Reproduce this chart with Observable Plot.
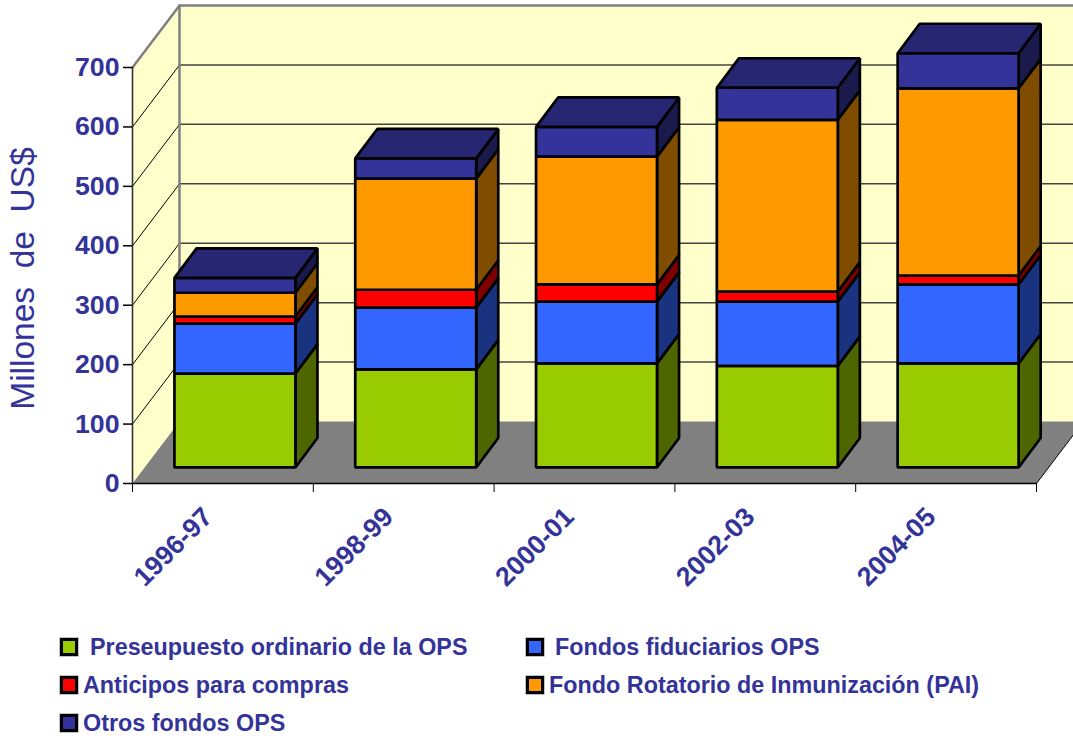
<!DOCTYPE html>
<html lang="es">
<head>
<meta charset="utf-8">
<script src="https://cdn.jsdelivr.net/npm/d3@7"></script>
<script src="https://cdn.jsdelivr.net/npm/@observablehq/plot@0.6"></script>
<style>
html,body{margin:0;padding:0;background:#fff;overflow:hidden}
#legend{position:relative;width:1073px;height:113px;font:bold 23.35px "Liberation Sans",Arial,sans-serif;color:#333399}
#legend .t{position:absolute;white-space:nowrap;line-height:28px}
#legend .s{position:absolute;box-sizing:border-box;width:18px;height:18px;border:3px solid #000;box-shadow:0 0 0 .6px #999}
</style>
</head>
<body>
<div id="chart"></div>
<div id="legend"></div>
<script>
const categories = ["1996-97","1998-99","2000-01","2002-03","2004-05"];
const presupuesto = [158,165,175,171,175];
const fiduciarios = [84,104,104,108,133];
const anticipos = [12,30,29,17,15];
const rotatorio = [40,187,215,289,315];
const otros = [25,34,50,54,59];
const seriesValues = [presupuesto,fiduciarios,anticipos,rotatorio,otros];
const seriesNames = ["Preseupuesto ordinario de la OPS","Fondos fiduciarios OPS","Anticipos para compras","Fondo Rotatorio de Inmunización (PAI)","Otros fondos OPS"];
const frontColors = ["#99CC00","#3366FF","#FF0000","#FF9900","#333399"];
const sideColors = ["#4D6600","#1A3380","#800000","#804D00","#1A1A4D"];
const topColor = "#262673";
const yTicks = [0,100,200,300,400,500,600,700];

// depth of the box and position of bars, in data units
const wallDX = 0.26, wallDY = 104.3;
const barX = 0.232, barW = 0.669, barBase = 27, barDX = 0.122, barDY = 49.6;

const poly = (pts, opts) => Plot.line(pts, {x: d => d[0], y: d => d[1], curve: "linear-closed", strokeLinejoin: "miter", ...opts});
const seg = (pts, opts) => Plot.line(pts, {x: d => d[0], y: d => d[1], ...opts});

const marks = [];
// walls and floor
marks.push(poly([[0,0],[wallDX,wallDY],[wallDX,700+wallDY],[0,700]], {fill:"#FFFFCC", stroke:"none"}));
marks.push(poly([[wallDX,wallDY],[5+wallDX,wallDY],[5+wallDX,700+wallDY],[wallDX,700+wallDY]], {fill:"#FFFFCC", stroke:"none"}));
for (const v of yTicks.slice(1,-1)) {
  marks.push(seg([[0,v],[wallDX,v+wallDY]], {stroke:"#000", strokeWidth:1}));
  marks.push(seg([[wallDX,v+wallDY],[5+wallDX,v+wallDY]], {stroke:"#444", strokeWidth:1.5}));
}
marks.push(seg([[0,700],[wallDX,700+wallDY],[5+wallDX,700+wallDY]], {stroke:"#808080", strokeWidth:2.5}));
marks.push(seg([[wallDX,700+wallDY],[wallDX,wallDY]], {stroke:"#808080", strokeWidth:2.5}));
marks.push(poly([[0,0],[5,0],[5+wallDX,wallDY],[wallDX,wallDY]], {fill:"#808080", stroke:"none"}));
marks.push(seg([[5,0],[5+wallDX,wallDY]], {stroke:"#000", strokeWidth:1}));
marks.push(seg([[0,0],[0,700]], {stroke:"#333", strokeWidth:1.6}));

// boxes
categories.forEach((c,i) => {
  const x0 = i + barX, x1 = x0 + barW;
  let v = barBase;
  seriesValues.forEach((vals,s) => {
    const y0 = v, y1 = v + vals[i];
    const style = {stroke:"#000", strokeWidth:2.7};
    marks.push(poly([[x1,y0],[x1+barDX,y0+barDY],[x1+barDX,y1+barDY],[x1,y1]], {fill:sideColors[s], ...style}));
    marks.push(poly([[x0,y0],[x1,y0],[x1,y1],[x0,y1]], {fill:frontColors[s], ...style}));
    if (s === seriesValues.length-1)
      marks.push(poly([[x0,y1],[x1,y1],[x1+barDX,y1+barDY],[x0+barDX,y1+barDY]], {fill:topColor, ...style}));
    v = y1;
  });
});

marks.push(Plot.axisY({ticks:yTicks, tickSize:9, tickPadding:4, stroke:"#000", strokeWidth:1.5, fill:"#333399", label:null}));
marks.push(Plot.axisX({ticks:[0,1,2,3,4,5], tickSize:9, stroke:"#000", tickFormat:()=>"", label:null}));
marks.push(Plot.ruleY([0], {stroke:"#000", strokeWidth:1.6}));
marks.push(Plot.axisX({ticks:categories.map((c,i)=>i+0.5), tickSize:0, tickRotate:-45, tickPadding:22, stroke:"none", fill:"#333399",
  tickFormat:d=>categories[Math.floor(d)], textAnchor:"end", label:null, dx:-15, dy:7, fontSize:26.7}));
marks.push(Plot.text(["Millones\u00a0\u00a0de\u00a0\u00a0US$"], {frameAnchor:"left", textAnchor:"middle", rotate:-90, dx:-109, dy:34, fontSize:33.5, fontWeight:"normal", fill:"#333399"}));

const chart = Plot.plot({
  width:1073, height:625, marginLeft:132, marginRight:37, marginTop:5, marginBottom:142,
  x:{domain:[0,5], range:[132,1036]},
  y:{domain:[0,700], range:[483,67]},
  style:{fontFamily:'"Liberation Sans",Arial,sans-serif', fontWeight:"bold", fontSize:"26.7px", background:"#fff", overflow:"hidden"},
  marks
});
document.getElementById("chart").appendChild(chart);
chart.style.display = "block";

// legend
const lg = document.getElementById("legend");
const rows = [[60,90,22],[526,555,22],[60,83,60],[526,549,60],[60,83,98]];
seriesNames.forEach((n,i) => {
  const [sx,tx,cy] = rows[i];
  const s = document.createElement("div"); s.className="s"; s.style.cssText=`left:${sx}px;top:${cy-9}px;background:${frontColors[i]}`; lg.appendChild(s);
  const t = document.createElement("div"); t.className="t"; t.textContent=n; t.style.cssText=`left:${tx}px;top:${cy-14}px`; lg.appendChild(t);
});
</script>
</body>
</html>
